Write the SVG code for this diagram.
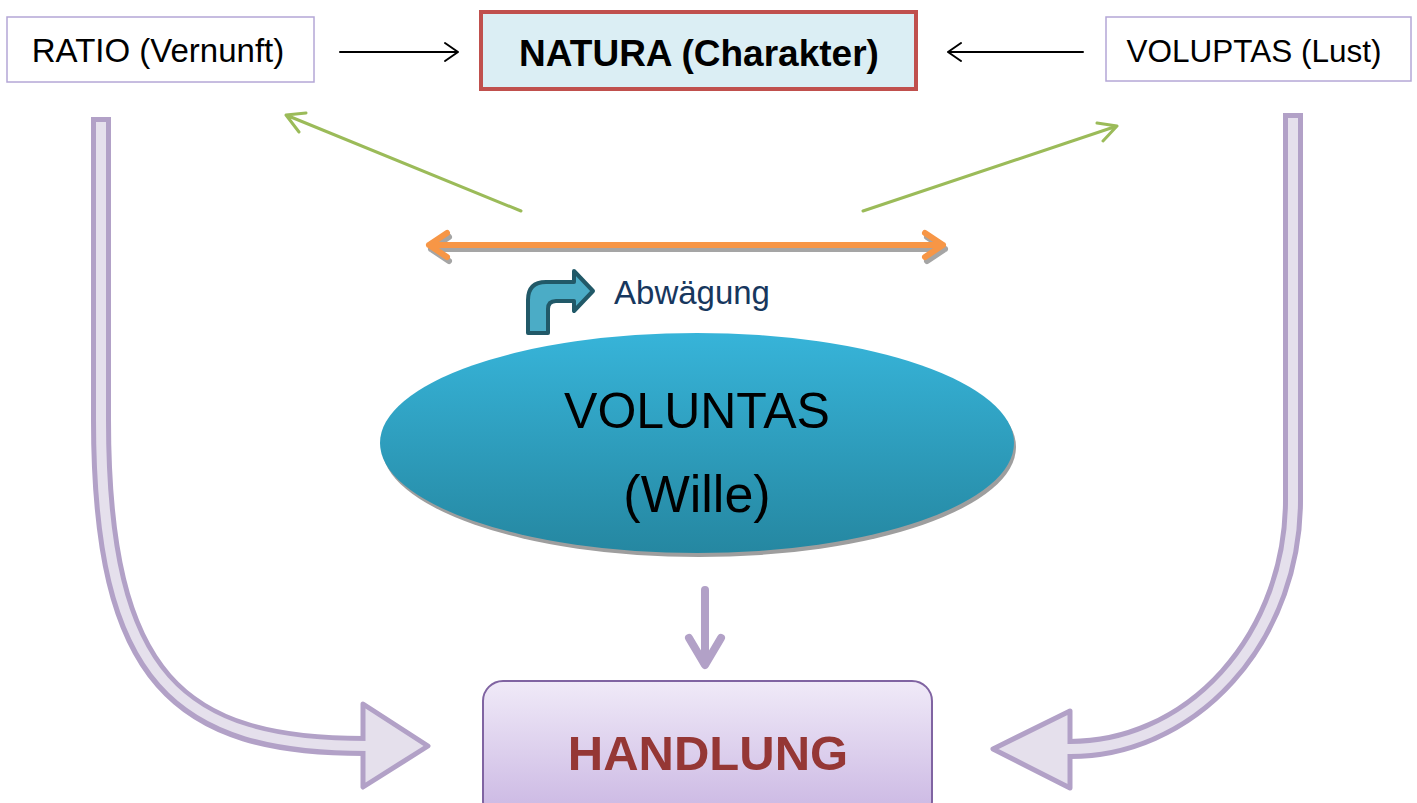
<svg xmlns="http://www.w3.org/2000/svg" width="1417" height="803" viewBox="0 0 1417 803">
  <style>
    .t { font-family: "Liberation Sans", Arial, sans-serif; text-anchor: middle; }
    .box { fill: #ffffff; stroke: #b4a7d6; stroke-width: 1.5; }
    .blk { fill: none; stroke: #000000; stroke-width: 2; stroke-linecap: round; stroke-linejoin: round; }
    .grn { fill: none; stroke: #9bbb59; stroke-width: 3; stroke-linecap: round; stroke-linejoin: round; }
    .org { fill: none; stroke: #f79646; stroke-width: 6; stroke-linecap: round; stroke-linejoin: round; }
    .shd { fill: none; stroke: #a5a5a5; stroke-width: 6; stroke-linecap: round; stroke-linejoin: round; }
    .bigo { fill: none; stroke: #b2a1c7; stroke-width: 20; }
    .bigi { fill: none; stroke: #e5e0ec; stroke-width: 10; }
    .head { fill: #e5e0ec; stroke: #b2a1c7; stroke-width: 5; stroke-linejoin: round; }
    .dwn { fill: none; stroke: #b2a1c7; stroke-width: 8; stroke-linecap: round; stroke-linejoin: round; }
  </style>
  <defs>
    <linearGradient id="gEll" x1="0" y1="0" x2="0" y2="1">
      <stop offset="0" stop-color="#37b4d9"/>
      <stop offset="1" stop-color="#2587a1"/>
    </linearGradient>
    <linearGradient id="gHand" x1="0" y1="0" x2="0" y2="1">
      <stop offset="0" stop-color="#f0eaf8"/>
      <stop offset="1" stop-color="#c9b5e2"/>
    </linearGradient>
  </defs>

  <g id="connectors">
    <!-- black arrows into NATURA -->
    <path class="blk" d="M340,52 H458 M445,43 L458,52 L445,61"/>
    <path class="blk" d="M1083,52 H948 M961,43 L948,52 L961,61"/>
    <!-- green arrows -->
    <path class="grn" d="M521,211 L286,115 M306,113 L286,115 L299,132"/>
    <path class="grn" d="M863,211 L1117,126 M1097,123 L1117,126 L1103,141"/>
    <!-- orange double arrow with shadow -->
    <path class="shd" d="M431,249 H945 M449,237 L431,249 L449,261 M927,237 L945,249 L927,261"/>
    <path class="org" d="M429,245 H943 M447,233 L429,245 L447,257 M925,233 L943,245 L925,257"/>
    <!-- big left curved arrow -->
    <path class="bigo" d="M101,117 V420 C101,680 180,746 364,746"/>
    <polygon class="head" points="363,704 428,746 363,787"/>
    <path class="bigi" d="M101,122 V420 C101,680 180,746 368,746"/>
    <!-- big right curved arrow -->
    <path class="bigo" d="M1293,113 V500 A223,249 0 0 1 1070,749"/>
    <polygon class="head" points="1070,711 993,749 1070,788"/>
    <path class="bigi" d="M1293,118 V500 A223,249 0 0 1 1066,749"/>
    <!-- small down arrow -->
    <path class="dwn" d="M705,590 V662 M689,638 L705,665 L721,638"/>
  </g>

  <g id="ratio">
    <rect class="box" x="7" y="17" width="307" height="65"/>
    <text class="t" x="158" y="62" font-size="33">RATIO (Vernunft)</text>
  </g>

  <g id="natura">
    <rect x="481" y="12" width="435" height="77" fill="#dbeef4" stroke="#c0504d" stroke-width="4"/>
    <text class="t" x="699" y="66" font-size="37" font-weight="bold">NATURA (Charakter)</text>
  </g>

  <g id="voluptas">
    <rect class="box" x="1106" y="17" width="305" height="64"/>
    <text class="t" x="1254" y="62" font-size="31.5">VOLUPTAS (Lust)</text>
  </g>

  <g id="abwaegung">
    <path d="M528,333 V300 Q528,282 546,282 H574 V271 L593,291 L574,311 V301 H556 Q548,301 548,309 V333 Z" fill="#4bacc6" stroke="#215968" stroke-width="4" stroke-linejoin="round"/>
    <text class="t" x="692" y="304" font-size="33" fill="#17375e">Abwägung</text>
  </g>

  <g id="voluntas">
    <ellipse cx="699" cy="447" rx="317" ry="110" fill="#9e9e9e"/>
    <ellipse cx="697" cy="443" rx="317" ry="110" fill="url(#gEll)"/>
    <text class="t" x="697" y="428" font-size="50">VOLUNTAS</text>
    <text class="t" x="697" y="512" font-size="52">(Wille)</text>
  </g>

  <g id="handlung">
    <rect x="483" y="681" width="449" height="140" rx="20" ry="20" fill="url(#gHand)" stroke="#8064a2" stroke-width="2"/>
    <text class="t" x="708" y="770" font-size="49" font-weight="bold" fill="#953735">HANDLUNG</text>
  </g>
</svg>
